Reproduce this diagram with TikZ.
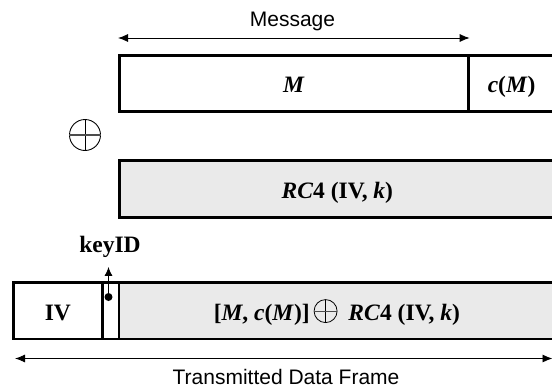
\documentclass[tikz,border=0pt]{standalone}
\usepackage{fontspec}
\setmainfont{Liberation Serif}
\setsansfont{Liberation Sans}
\usetikzlibrary{arrows.meta}
\definecolor{fieldgray}{RGB}{234,234,234}
\tikzset{
  field/.style={draw=black, line width=2.7pt, rectangle, inner sep=0pt,
    anchor=north west, minimum height=56pt,
    font=\fontsize{23.5}{28}\selectfont\bfseries, text height=19pt, text depth=0pt},
  shaded/.style={field, fill=fieldgray},
  lbl/.style={font=\fontsize{21}{25}\selectfont\sffamily, anchor=base, inner sep=0pt},
  term/.style={font=\fontsize{23.5}{28}\selectfont\bfseries, anchor=base, inner sep=0pt},
  dimarrow/.style={line width=0.9pt,
    {Latex[length=10pt,width=8pt]}-{Latex[length=10pt,width=8pt]}},
  ptr/.style={line width=0.9pt, -{Latex[length=9pt,width=8pt]}},
}
% circled plus set inline with the text
\newcommand{\xorglyph}{\tikz[x=1pt,y=1pt,baseline=-9pt,line width=0.8pt]{%
  \draw (0,0) circle (11.5);
  \draw (0,-11.5) -- (0,11.5);
  \draw[gray!60!black] (-11.5,0) -- (11.5,0);}}

\begin{document}
\begin{tikzpicture}[x=1pt,y=-1pt]
\useasboundingbox (0,0) rectangle (552,388);
\clip (0,0) rectangle (552,388);

% plaintext with its checksum
\node[field, minimum width=349pt] (M) at (118,54) {\textit{M}};
\node[field, minimum width=86.5pt] (cM) at (467,54) {\textit{c}(\textit{M})};
\draw[dimarrow] ([yshift=16pt]M.north west) -- ([yshift=16pt]M.north east);
\node[lbl] (msg) at (292.5,26.7) {Message};

% exclusive or
\node[circle, draw, line width=0.9pt, minimum size=31pt, inner sep=0pt] (xor) at (85,135) {};
\draw[line width=0.9pt] (xor.north) -- (xor.south);
\draw[gray!60!black, line width=1.3pt] (xor.west) -- (xor.east);

% key stream
\node[shaded, minimum width=436pt, minimum height=57pt] (ks) at (118,159)
  {\textit{RC}4 (IV, \textit{k})};

% transmitted frame
\node[field, minimum width=89pt, minimum height=56.5pt] (iv) at (12,281) {IV};
\node[field, minimum width=16.5pt, minimum height=56.5pt] (kid) at (101,281) {};
\node[shaded, minimum width=436pt, minimum height=56.5pt] (pay) at (117.5,281)
  {[\textit{M}, \textit{c}(\textit{M})]\hspace{4pt}\xorglyph\hspace{11pt}\textit{RC}4 (IV, \textit{k})};

% key identifier pointer
\node[term] (key) at (110,252.7) {keyID};
\coordinate (dot) at (108.5,297);
\fill (dot) circle (4);
\draw[ptr, shorten >=9pt] (dot) -- (dot |- key.south);

% frame extent
\coordinate (fl) at (15,358.5);
\coordinate (fr) at (552.5,358.5);
\draw[dimarrow] (fl) -- (fr);
\node[lbl] (tdf) at (286,384.5) {Transmitted Data Frame};
\end{tikzpicture}
\end{document}
